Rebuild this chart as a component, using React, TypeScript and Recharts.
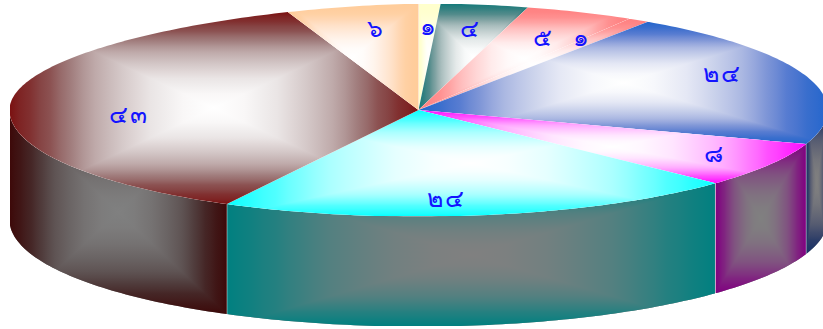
import { Pie, PieChart } from 'recharts';

const sliceLabels = ['๑', '๔', '๕', '๑', '๒๔', '๘', '๒๔', '๔๓', '๖'];
const sliceValues = [1, 4, 5, 1, 24, 8, 24, 43, 6];
const topColors = ['#FFFFCC', '#117A7A', '#FF8080', '#FF8080', '#2266CC', '#FF00FF', '#00FFFF', '#7B1010', '#FFCC99'];
const sideColors = ['#808066', '#083D3D', '#804040', '#804040', '#1A3366', '#800080', '#008080', '#3D0808', '#806640'];

// label offsets from the r=0.77 ring, the original does not sit them on a clean radius
const labelNudge = [[2, -3], [1, -2], [1, 1], [-6, -5], [6, -12], [26, 0], [-23, 6], [24, 10], [8, -2]];

// bell falloff of the reference gradient in linear light: [position, blend]
const blendCurve = [[0, 0], [0.1, 0.025], [0.2, 0.08], [0.3, 0.2], [0.42, 0.4], [0.55, 0.58], [0.69, 0.78], [0.85, 0.93], [1, 1]];

const WIDTH = 823;
const HEIGHT = 329;
const CX = 418.5;
const CY = 110;
const RX = 409;
const RY = 106.5;
const DEPTH = 110;
const RIM_SAG = 5; // upper left rim of the original runs a little flatter than a true ellipse

const tableData = sliceValues.map((value, i) => ({ name: sliceLabels[i], value, index: i }));

function arcPoints(startAngle: number, endAngle: number) {
  const points: Array<[number, number]> = [];
  const steps = Math.max(2, Math.ceil(Math.abs(endAngle - startAngle)));
  for (let i = 0; i <= steps; i++) {
    const deg = startAngle + ((endAngle - startAngle) * i) / steps;
    const a = (deg * Math.PI) / 180;
    // recharts runs the angles downward from 90, so the upper left quarter is -270..-180
    const sag = deg <= -180 && deg >= -270 ? RIM_SAG * Math.abs(Math.sin(2 * a)) : 0;
    points.push([CX + RX * Math.cos(a), CY - RY * Math.sin(a) + sag]);
  }
  return points;
}

function toPath(points: Array<[number, number]>) {
  return points.map((p, i) => `${i === 0 ? 'M' : 'L'}${p[0].toFixed(2)} ${p[1].toFixed(2)}`).join(' ') + ' Z';
}

function bounds(points: Array<[number, number]>) {
  const xs = points.map((p) => p[0]);
  const ys = points.map((p) => p[1]);
  return { x0: Math.min(...xs), x1: Math.max(...xs), y0: Math.min(...ys), y1: Math.max(...ys) };
}

const toLinear = (c: number) => (c <= 0.04045 ? c / 12.92 : Math.pow((c + 0.055) / 1.055, 2.4));
const toSrgb = (c: number) => (c <= 0.0031308 ? c * 12.92 : 1.055 * Math.pow(c, 1 / 2.4) - 0.055);

function channels(hex: string) {
  return [1, 3, 5].map((p) => toLinear(parseInt(hex.slice(p, p + 2), 16) / 255));
}

function bellStops(edge: string, mid: string) {
  const a = channels(edge);
  const b = channels(mid);
  const out: Array<{ offset: string; color: string }> = [];
  blendCurve.forEach(([pos, blend], n) => {
    // extra stop halfway through each span, sRGB stops would dull the blend otherwise
    const spans = n === 0 ? [[pos, blend]] : [[(pos + blendCurve[n - 1][0]) / 2, (blend + blendCurve[n - 1][1]) / 2], [pos, blend]];
    spans.forEach(([p, t]) => {
      const rgb = a.map((v, k) => Math.round(toSrgb(v + (b[k] - v) * t) * 255));
      out.push({ offset: `${(p * 100).toFixed(2)}%`, color: `rgb(${rgb.join(',')})` });
    });
  });
  return out;
}

// four triangles meeting in the middle of the box, same as a rectangular path gradient
function RectGradient({ id, d, box, edge, mid }: { id: string; d: string; box: ReturnType<typeof bounds>; edge: string; mid: string }) {
  const { x0, x1, y0, y1 } = box;
  const mx = (x0 + x1) / 2;
  const my = (y0 + y1) / 2;
  const stops = bellStops(edge, mid).map((s) => <stop key={s.offset} offset={s.offset} stopColor={s.color} />);
  return (
    <g>
      <defs>
        <clipPath id={`${id}-clip`}>
          <path d={d} />
        </clipPath>
        <linearGradient id={`${id}-t`} gradientUnits="userSpaceOnUse" x1={0} y1={y0} x2={0} y2={my}>{stops}</linearGradient>
        <linearGradient id={`${id}-b`} gradientUnits="userSpaceOnUse" x1={0} y1={y1} x2={0} y2={my}>{stops}</linearGradient>
        <linearGradient id={`${id}-l`} gradientUnits="userSpaceOnUse" x1={x0} y1={0} x2={mx} y2={0}>{stops}</linearGradient>
        <linearGradient id={`${id}-r`} gradientUnits="userSpaceOnUse" x1={x1} y1={0} x2={mx} y2={0}>{stops}</linearGradient>
      </defs>
      <g clipPath={`url(#${id}-clip)`} shapeRendering="crispEdges">
        <rect x={x0} y={y0} width={x1 - x0} height={y1 - y0} fill={mid} />
        <polygon points={`${x0},${y0} ${x1},${y0} ${mx},${my}`} fill={`url(#${id}-t)`} />
        <polygon points={`${x0},${y1} ${x1},${y1} ${mx},${my}`} fill={`url(#${id}-b)`} />
        <polygon points={`${x0},${y0} ${x0},${y1} ${mx},${my}`} fill={`url(#${id}-l)`} />
        <polygon points={`${x1},${y0} ${x1},${y1} ${mx},${my}`} fill={`url(#${id}-r)`} />
      </g>
    </g>
  );
}

function Slice3D(props: any) {
  const { startAngle, endAngle, payload } = props;
  const i = payload?.index ?? props.index;
  const arc = arcPoints(startAngle, endAngle);
  const topPoints: Array<[number, number]> = [[CX, CY], ...arc];

  // side wall only where the rim faces the viewer (below the centre line)
  const lo = Math.max(Math.min(startAngle, endAngle), -180);
  const hi = Math.min(Math.max(startAngle, endAngle), 0);
  let wall = null;
  if (hi > lo) {
    const rim = arcPoints(hi, lo);
    const lower = rim.map((p) => [p[0], p[1] + DEPTH] as [number, number]).reverse();
    const wallPoints = [...rim, ...lower];
    const first = rim[0];
    const last = rim[rim.length - 1];
    wall = (
      <g>
        <RectGradient id={`side${i}`} d={toPath(wallPoints)} box={bounds(wallPoints)} edge={sideColors[i]} mid="#808080" />
        <line x1={first[0]} y1={first[1]} x2={first[0]} y2={first[1] + DEPTH} stroke="#fff" strokeOpacity={0.3} />
        <line x1={last[0]} y1={last[1]} x2={last[0]} y2={last[1] + DEPTH} stroke="#fff" strokeOpacity={0.3} />
      </g>
    );
  }

  return (
    <g>
      {wall}
      <RectGradient id={`top${i}`} d={toPath(topPoints)} box={bounds(topPoints)} edge={topColors[i]} mid="#FFFFFF" />
    </g>
  );
}

function SliceLabel(props: any) {
  const { midAngle, index } = props;
  const a = (midAngle * Math.PI) / 180;
  const x = CX + RX * 0.77 * Math.cos(a) + labelNudge[index][0];
  const y = CY - RY * 0.77 * Math.sin(a) + labelNudge[index][1];
  return (
    <text x={x} y={y} fill="#1414FF" fontSize={25} letterSpacing={2} fontFamily="'Noto Sans', 'DejaVu Sans', sans-serif" textAnchor="middle" dominantBaseline="central">
      {sliceLabels[index]}
    </text>
  );
}

export default function App() {
  return (
    <div style={{ position: 'absolute', left: 0, top: 0, width: WIDTH, height: HEIGHT, background: '#fff', overflow: 'hidden' }}>
      <PieChart width={WIDTH} height={HEIGHT} margin={{ top: 0, right: 0, bottom: 0, left: 0 }}>
        <Pie
          data={tableData}
          dataKey="value"
          cx={CX}
          cy={CY}
          outerRadius={RX}
          startAngle={90}
          endAngle={-270}
          stroke="none"
          isAnimationActive={false}
          shape={Slice3D}
          inactiveShape={Slice3D}
          activeShape={Slice3D}
          label={SliceLabel}
          labelLine={false}
        />
      </PieChart>
    </div>
  );
}
